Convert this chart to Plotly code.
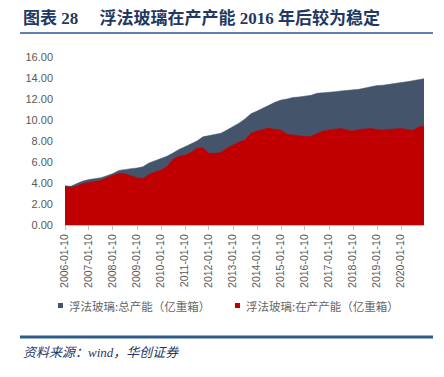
import plotly.graph_objects as go

# quarterly sample dates 2006-01-10 ... 2020-10-10, plus end of series
dates = [f"{y}-{m:02d}-10" for y in range(2006, 2021) for m in (1, 4, 7, 10)] + ["2020-12-25"]

total_capacity = [
    3.75, 3.68, 3.95, 4.18, 4.33, 4.40, 4.50, 4.70, 4.90, 5.20, 5.31, 5.37,
    5.43, 5.55, 5.90, 6.10, 6.30, 6.55, 6.85, 7.20, 7.46, 7.70, 8.00, 8.40,
    8.50, 8.62, 8.75, 9.05, 9.35, 9.70, 10.10, 10.60, 10.85, 11.10, 11.40, 11.70,
    11.90, 12.00, 12.15, 12.20, 12.28, 12.35, 12.55, 12.58, 12.63, 12.70, 12.77, 12.82,
    12.85, 12.93, 13.05, 13.20, 13.28, 13.32, 13.38, 13.45, 13.57, 13.65, 13.75, 13.85,
    13.94,
]
in_production = [
    3.65, 3.60, 3.70, 3.95, 4.05, 4.12, 4.25, 4.50, 4.75, 4.90, 4.88, 4.70,
    4.50, 4.42, 4.80, 5.05, 5.25, 5.55, 6.25, 6.55, 6.65, 6.90, 7.30, 7.35,
    6.83, 6.83, 6.90, 7.30, 7.60, 7.90, 8.10, 8.75, 8.95, 9.10, 9.25, 9.10,
    9.05, 8.65, 8.55, 8.50, 8.42, 8.45, 8.73, 8.95, 9.05, 9.15, 9.20, 9.05,
    8.95, 9.10, 9.15, 9.20, 9.10, 9.05, 9.10, 9.15, 9.20, 9.10, 9.00, 9.35,
    9.43,
]

tick_years = list(range(2006, 2021))
tick_vals = [f"{y}-01-10" for y in tick_years]
tick_text = [f"{y}-01-10" for y in tick_years]
y_ticks = [0, 2, 4, 6, 8, 10, 12, 14, 16]

series_names = ["浮法玻璃:总产能（亿重箱）", "浮法玻璃:在产产能（亿重箱）"]
GRAY = "#44546A"
RED = "#C00000"
series_colors = [GRAY, RED]

# the page body has an 8px default margin, so the figure is drawn 8px smaller
# and all reference-pixel positions are measured in window coordinates.
OFF = 8
L, T, W, H = 65, 56, 359, 169          # plot area in window px
FIG_W, FIG_H = 444 - OFF, 377 - OFF
def px(xp):
    return (xp - L) / W
def py(yp):
    return (T + H - yp) / H

fig = go.Figure()
fig.add_trace(go.Scatter(x=dates, y=total_capacity, mode="lines", fill="tozeroy",
                         name=series_names[0],
                         line=dict(color=GRAY, width=0.5), fillcolor=GRAY,
                         showlegend=False, hoverinfo="skip"))
fig.add_trace(go.Scatter(x=dates, y=in_production, mode="lines", fill="tozeroy",
                         name=series_names[1],
                         line=dict(color=RED, width=0.5), fillcolor=RED,
                         showlegend=False, hoverinfo="skip"))

axis_font = dict(family="Liberation Sans, Arial, sans-serif", size=11, color="#595959")

fig.update_layout(
    width=FIG_W, height=FIG_H,
    margin=dict(l=L - OFF, r=444 - L - W, t=T - OFF, b=377 - T - H, autoexpand=False),
    paper_bgcolor="white", plot_bgcolor="white",
    font=dict(family="Noto Sans CJK SC, sans-serif", color="#595959"),
    xaxis=dict(type="date", range=["2006-01-10", "2020-12-25"],
               tickmode="array", tickvals=tick_vals, ticktext=tick_text,
               tickangle=-90, tickfont=dict(axis_font, size=10.5), showgrid=False,
               showline=True, linecolor="#BFBFBF", linewidth=1,
               ticks="outside", ticklen=4, tickcolor="#BFBFBF", zeroline=False),
    yaxis=dict(range=[0, 16.1], tickmode="array", tickvals=y_ticks,
               tickformat=".2f", tickfont=axis_font, showgrid=False,
               showline=False, zeroline=False, ticks="", ticklabelstandoff=11),
    showlegend=False,
)

# manual legend
legend_sq_x = [60.5, 237.5]
for name, col, sx in zip(series_names, series_colors, legend_sq_x):
    fig.add_shape(type="rect", xref="paper", yref="paper",
                  x0=px(sx - 2.5), x1=px(sx + 2.5), y0=py(308), y1=py(303),
                  line=dict(width=0), fillcolor=col)
    fig.add_annotation(xref="paper", yref="paper", x=px(sx + 6), y=py(306),
                       xanchor="left", yanchor="middle", showarrow=False, text=name,
                       font=dict(family="Noto Sans CJK SC, sans-serif", size=11.5, color="#666666"))

# title
fig.add_annotation(xref="paper", yref="paper", x=px(21), y=py(18), xanchor="left", yanchor="middle",
                   showarrow=False,
                   text="<b>图表 28&nbsp;&nbsp;&nbsp;&nbsp; 浮法玻璃在产产能 2016 年后较为稳定</b>",
                   font=dict(family="Liberation Serif, Noto Sans CJK SC, serif", size=17, color="#1F3864"))
# top rule
fig.add_shape(type="line", xref="paper", yref="paper", x0=px(20), x1=px(433),
              y0=py(33), y1=py(33), line=dict(color="#2F5597", width=1.5))
# bottom rule
fig.add_shape(type="line", xref="paper", yref="paper", x0=px(20), x1=px(433),
              y0=py(337), y1=py(337), line=dict(color="#2E5C8A", width=3))
# source
fig.add_annotation(xref="paper", yref="paper", x=px(21), y=py(352),
                   xanchor="left", yanchor="middle", showarrow=False,
                   text="<i>资料来源：wind，华创证券</i>",
                   font=dict(family="Liberation Serif, Noto Sans CJK SC, serif", size=13, color="#1F3864"))

fig.write_html("out.html")
